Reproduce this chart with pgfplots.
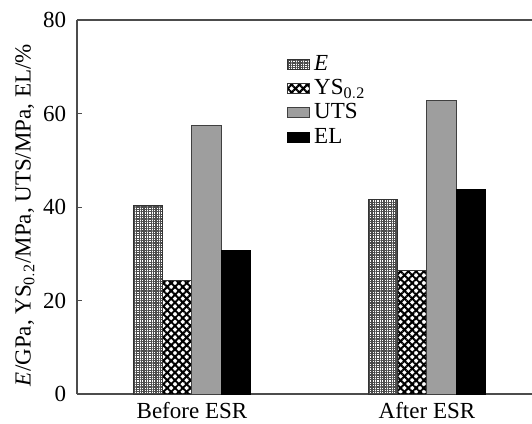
\documentclass[border=0pt]{standalone}
\usepackage{fontspec}
\setmainfont{Liberation Serif}
\usepackage{pgfplots}
\pgfplotsset{compat=1.18}
\usetikzlibrary{patterns.meta,calc}
\begin{document}
\fontsize{23}{25}\selectfont
\begin{tikzpicture}
\begin{axis}[
  width=455pt, height=374pt, scale only axis,
  xmin=-0.489, xmax=1.447, ymin=0, ymax=80,
  axis x line=box, axis y line=left,
  axis line style={-, line width=1.1pt, draw=black!70},
  ytick={0,20,40,60,80},
  tick align=inside, major tick length=5pt,
  ytick style={line width=0.8pt, draw=black!70},
  xtick={0,1}, xticklabels={Before ESR, After ESR},
  xtick style={draw=none},
  /pgf/number format/assume math mode=true,
  ticklabel style={font=\fontsize{23}{25}\selectfont},
  yticklabel style={xshift=-3pt},
  xticklabel style={yshift=5pt},
  ylabel={\fontsize{23}{25}\selectfont \textit{E}/GPa, YS$_{\mathrm{0.2}}$/MPa, UTS/MPa, EL/\%},
  ylabel style={yshift=-7pt, xshift=-8pt},
  ybar, bar width=0.1255, bar shift=0pt,
  legend style={draw=none, fill=none, at={(0.462,0.912)}, anchor=north west,
    font=\fontsize{23}{22}\selectfont, row sep=2pt, inner sep=0pt,
    nodes={inner xsep=4pt, inner ysep=0pt, text depth=0.22em, text height=0.75em}},
  legend cell align=left,
  legend image code/.code={\draw[#1, line width=0.8pt] (0pt,-5pt) rectangle (22pt,5pt);},
]
\addplot[draw=black!80, line width=0.8pt, pattern={Hatch[angle=0,distance=2.4pt,line width=1.1pt]}, pattern color=black!70]
  coordinates {(-0.1875,40.3) (0.8125,41.7)};
\addlegendentry{\textit{E}}
\addplot[draw=black!80, line width=0.8pt, pattern={Hatch[angle=45,distance=5.5pt,line width=2pt]}, pattern color=black]
  coordinates {(-0.0625,24.2) (0.9375,26.5)};
\addlegendentry{YS$_{\mathrm{0.2}}$}
\addplot[draw=black!75, line width=1pt, fill=black!38]
  coordinates {(0.0625,57.5) (1.0625,62.7)};
\addlegendentry{UTS}
\addplot[draw=black, line width=0.8pt, fill=black]
  coordinates {(0.1875,30.7) (1.1875,43.8)};
\addlegendentry{EL}
\coordinate (ll) at (rel axis cs:0,0);
\coordinate (ur) at (rel axis cs:1,1);
\end{axis}
\pgfresetboundingbox
\path[use as bounding box] ($(ll)+(-77pt,-29pt)$) rectangle ($(ur)+(0pt,20pt)$);
\end{tikzpicture}
\end{document}
